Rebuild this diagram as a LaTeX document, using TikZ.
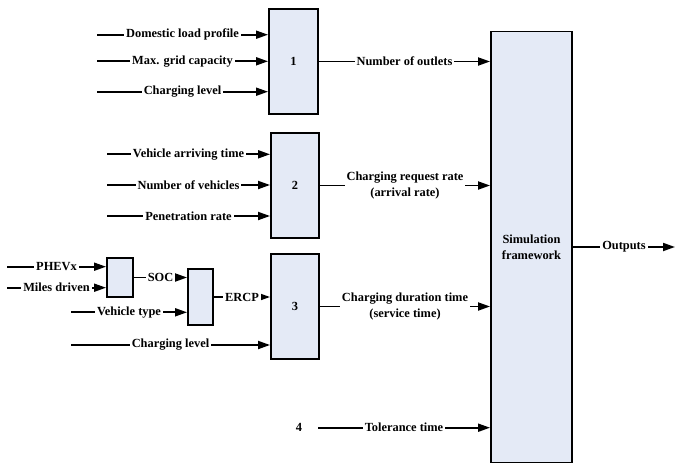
\documentclass[tikz,border=0pt]{standalone}
\usepackage{fontspec}
\setmainfont{Liberation Serif}
\usetikzlibrary{arrows.meta,positioning}
\definecolor{boxfill}{RGB}{228,234,246}
\tikzset{
 blk/.style={draw,line width=1.9pt,fill=boxfill,inner sep=0pt},
 arr/.style={line width=1.8pt,-{Triangle[length=12pt,width=8pt]}},
 lbl/.style={fill=white,inner sep=2pt,align=center}
}
\begin{document}
\begin{tikzpicture}[x=1pt,y=-1pt,font=\fontsize{12.4}{15.6}\selectfont\bfseries]
\useasboundingbox (0,0) rectangle (675,464);
% blocks
\node[blk,minimum width=49pt,minimum height=105pt] (b1) at (293.5,61.5) {1};
\node[blk,minimum width=48pt,minimum height=105pt] (b2) at (295,185.5) {2};
\node[blk,minimum width=48pt,minimum height=105pt] (b3) at (295,306.5) {3};
\node[blk,minimum width=26pt,minimum height=39pt] (ba) at (120,277.5) {};
\node[blk,minimum width=25pt,minimum height=56pt] (bb) at (200.5,297) {};
\node[blk,minimum width=81pt,minimum height=431pt,align=center] (sim) at (531.5,247) {Simulation\\framework};
\node (n4) at (299,427.7) {4};
% inputs of 1 and 2
\foreach \n/\y/\t in {1/34.7/Domestic load profile,2/61.3/Max. grid capacity,3/91.7/Charging level}{
 \coordinate (p\n) at (97,\y);
 \draw[arr] (p\n) -- node[lbl]{\t} (p\n -| b1.west);
}
\foreach \n/\y/\t in {1/154.3/Vehicle arriving time,2/185/Number of vehicles,3/216/Penetration rate}{
 \coordinate (q\n) at (107,\y);
 \draw[arr] (q\n) -- node[lbl]{\t} (q\n -| b2.west);
}
% chain to 3
\coordinate (r1) at (7,266.7);
\coordinate (r2) at (7,287.7);
\coordinate (r3) at (71,312.3);
\coordinate (r4) at (71,345);
\draw[arr] (r1) -- node[lbl]{PHEVx} (r1 -| ba.west);
\draw[arr] (r2) -- node[lbl]{Miles driven} (r2 -| ba.west);
\draw[arr] (ba.east) -- node[lbl]{SOC} (ba.east -| bb.west);
\draw[arr] (r3) -- node[lbl]{Vehicle type} (r3 -| bb.west);
\draw[arr] (bb.east) -- node[lbl]{ERCP} (bb.east -| b3.west);
\draw[arr] (r4) -- node[lbl]{Charging level} (r4 -| b3.west);
% into the framework
\draw[arr] (b1.east) -- node[lbl]{Number of outlets} (b1.east -| sim.west);
\draw[arr] (b2.east) -- node[lbl]{Charging request rate\\(arrival rate)} (b2.east -| sim.west);
\draw[arr] (b3.east) -- node[lbl]{Charging duration time\\(service time)} (b3.east -| sim.west);
\coordinate (t4) at (318,427.7);
\draw[arr] (t4) -- node[lbl]{Tolerance time} (t4 -| sim.west);
\coordinate (out) at (675,247);
\draw[arr] (sim.east) -- node[lbl]{Outputs} (out);
\end{tikzpicture}
\end{document}
